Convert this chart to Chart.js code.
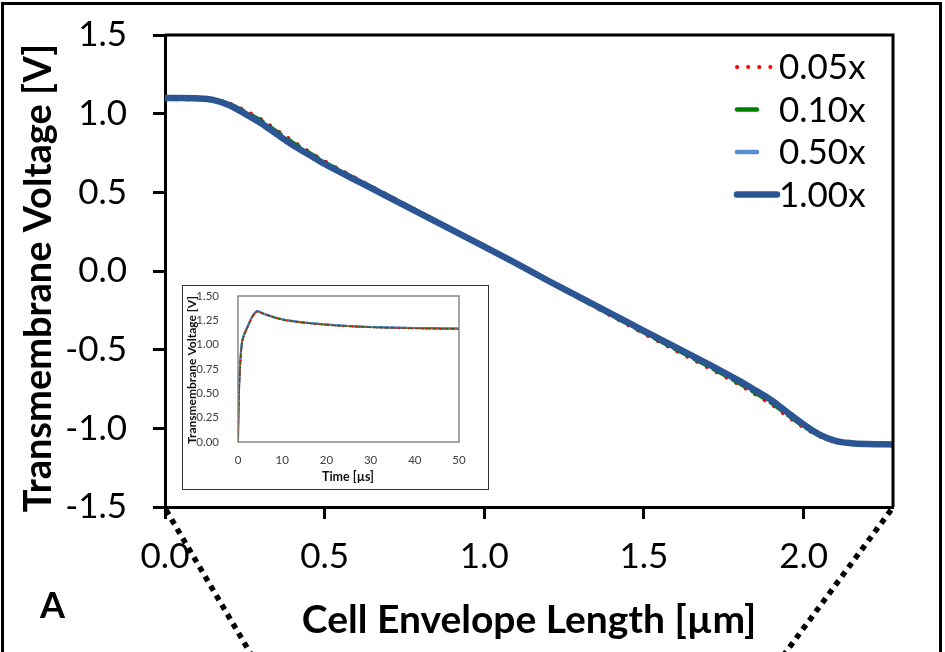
<!DOCTYPE html>
<html>
<head>
<meta charset="utf-8">
<script src="https://cdn.jsdelivr.net/npm/chart.js@4.4.1/dist/chart.umd.min.js"></script>
<style>
  body { margin: 0; background: #fff; }
  #wrap { position: relative; width: 945px; height: 652px; overflow: hidden; }
  #main { position: absolute; left: 0; top: 0; }
  #frame { position: absolute; left: 1px; top: 2px; width: 941px; height: 700px; border: 3px solid #000; box-sizing: border-box; }
  #insetBox { position: absolute; left: 182px; top: 285px; width: 307px; height: 205px; border: 1px solid #333; background: #fff; box-sizing: border-box; }
  #inset { position: absolute; left: 0; top: 0; }
</style>
</head>
<body>
<div id="wrap">
  <canvas id="main" width="945" height="652"></canvas>
  <div id="frame"></div>
  <div id="insetBox"><canvas id="inset" width="305" height="203"></canvas></div>
</div>
<script>
// main panel: voltage along the cell envelope
const seriesNames = ["0.05x", "0.10x", "0.50x", "1.00x"];
const lengthUm = [0, 0.05, 0.10, 0.15, 0.20, 0.25, 0.30, 0.35, 0.40, 0.45, 0.50, 0.60, 0.70, 0.80, 0.90, 1.00,
  1.10, 1.20, 1.30, 1.40, 1.50, 1.60, 1.70, 1.80, 1.85, 1.90, 1.95, 2.00, 2.05, 2.10, 2.15, 2.20, 2.28];
const v005 = [1.090, 1.090, 1.090, 1.086, 1.066, 1.020, 0.965, 0.895, 0.825, 0.760, 0.698, 0.588, 0.480, 0.372, 0.264, 0.155,
  0.045, -0.067, -0.178, -0.288, -0.398, -0.506, -0.613, -0.724, -0.786, -0.849, -0.924, -0.994, -1.051, -1.085, -1.095, -1.096, -1.096];
const v010 = [1.095, 1.095, 1.094, 1.088, 1.062, 1.012, 0.955, 0.885, 0.815, 0.752, 0.690, 0.582, 0.476, 0.369, 0.262, 0.155,
  0.046, -0.065, -0.174, -0.282, -0.390, -0.497, -0.603, -0.714, -0.775, -0.838, -0.914, -0.986, -1.046, -1.083, -1.096, -1.100, -1.101];
const v050 = [1.100, 1.100, 1.098, 1.088, 1.056, 1.002, 0.942, 0.872, 0.802, 0.741, 0.681, 0.576, 0.471, 0.366, 0.260, 0.155,
  0.048, -0.063, -0.169, -0.275, -0.381, -0.486, -0.591, -0.701, -0.762, -0.824, -0.902, -0.976, -1.041, -1.080, -1.095, -1.100, -1.102];
const v100 = [1.100, 1.100, 1.098, 1.088, 1.055, 1.000, 0.940, 0.870, 0.800, 0.740, 0.680, 0.575, 0.470, 0.365, 0.260, 0.155,
  0.048, -0.062, -0.168, -0.274, -0.380, -0.485, -0.590, -0.700, -0.760, -0.822, -0.900, -0.975, -1.040, -1.080, -1.095, -1.100, -1.102];
const xTicks = [0, 0.5, 1.0, 1.5, 2.0];
const yTicks = [-1.5, -1.0, -0.5, 0, 0.5, 1.0, 1.5];

// inset: voltage over time
const timeUs = [0, 0.1, 0.25, 0.5, 0.75, 1, 1.5, 2, 2.5, 3, 3.5, 4, 4.4, 5, 6, 7, 8, 10, 12, 15, 20, 25, 30, 35, 40, 45, 50];
const i005 = [0, 0.22, 0.50, 0.77, 0.94, 1.03, 1.105, 1.16, 1.21, 1.26, 1.30, 1.327, 1.340, 1.330, 1.310, 1.295, 1.280,
  1.257, 1.240, 1.223, 1.202, 1.187, 1.177, 1.171, 1.166, 1.163, 1.161];
const i010 = [0, 0.25, 0.53, 0.79, 0.95, 1.04, 1.11, 1.165, 1.215, 1.265, 1.305, 1.330, 1.342, 1.332, 1.312, 1.297, 1.282,
  1.259, 1.242, 1.225, 1.204, 1.189, 1.179, 1.173, 1.168, 1.165, 1.163];
const i050 = [0, 0.29, 0.57, 0.81, 0.965, 1.048, 1.118, 1.169, 1.219, 1.269, 1.309, 1.334, 1.346, 1.334, 1.314, 1.299, 1.284,
  1.261, 1.244, 1.227, 1.206, 1.191, 1.181, 1.175, 1.170, 1.167, 1.165];
const i100 = [0, 0.30, 0.58, 0.82, 0.97, 1.05, 1.12, 1.17, 1.22, 1.27, 1.31, 1.335, 1.347, 1.335, 1.315, 1.300, 1.285,
  1.262, 1.245, 1.228, 1.207, 1.192, 1.182, 1.176, 1.171, 1.168, 1.166];
const insetXTicks = [0, 10, 20, 30, 40, 50];
const insetYTicks = [0, 0.25, 0.5, 0.75, 1.0, 1.25, 1.5];

const colors = ["#ff0000", "#008000", "#558ed5", "#2c5693"];
const FONT = "Lato, 'Open Sans', sans-serif";

function pts(xs, ys) {
  return xs.map((x, i) => ({ x: x, y: ys[i] }));
}

// keep the plot box where the layout padding puts it (no label overflow padding)
function noOverflow(s) {
  s.paddingTop = 0; s.paddingBottom = 0; s.paddingLeft = 0; s.paddingRight = 0;
}

// main chart extras: frame, legend, titles, zoom lines
const mainDecor = {
  id: "mainDecor",
  afterDraw(chart) {
    const { ctx, chartArea: a } = chart;
    ctx.save();
    ctx.strokeStyle = "#000";
    ctx.lineWidth = 3;
    ctx.beginPath();
    ctx.moveTo(a.left, a.top);
    ctx.lineTo(a.right, a.top);
    ctx.lineTo(a.right, a.bottom);
    ctx.stroke();

    // dotted zoom lines
    ctx.setLineDash([5.5, 5.5]);
    ctx.lineWidth = 5.5;
    ctx.beginPath();
    ctx.moveTo(a.left + 1, a.bottom + 3);
    ctx.lineTo(252, 656);
    ctx.moveTo(a.right - 2, a.bottom + 3);
    ctx.lineTo(783, 656);
    ctx.stroke();
    ctx.setLineDash([]);

    // legend
    const sampleLen = [35, 20, 20, 40];
    chart.data.datasets.forEach((ds, i) => {
      const yy = 67 + i * 42.5;
      ctx.strokeStyle = ds.borderColor;
      ctx.lineWidth = ds.borderWidth;
      ctx.lineCap = "round";
      ctx.setLineDash(i === 0 ? ds.borderDash : []);
      ctx.beginPath();
      ctx.moveTo(737, yy);
      ctx.lineTo(737 + sampleLen[i], yy);
      ctx.stroke();
      ctx.setLineDash([]);
      ctx.fillStyle = "#000";
      ctx.font = "35px " + FONT;
      ctx.textAlign = "left";
      ctx.textBaseline = "middle";
      ctx.fillText(ds.label, 779, yy + 1);
    });

    // axis titles
    ctx.fillStyle = "#000";
    ctx.font = "bold 38px " + FONT;
    ctx.textAlign = "center";
    ctx.textBaseline = "alphabetic";
    ctx.save();
    ctx.translate(51, 278);
    ctx.rotate(-Math.PI / 2);
    ctx.fillText("Transmembrane Voltage [V]", 0, 0);
    ctx.restore();
    ctx.font = "bold 39px " + FONT;
    ctx.fillText("Cell Envelope Length [µm]", 529, 633);
    ctx.font = "bold 36px " + FONT;
    ctx.textAlign = "left";
    ctx.fillText("A", 40, 618);
    ctx.restore();
  }
};

new Chart(document.getElementById("main"), {
  type: "line",
  data: {
    datasets: [
      { label: seriesNames[0], data: pts(lengthUm, v005), borderColor: colors[0], borderWidth: 4,
        borderDash: [0.1, 11], borderCapStyle: "round", order: 4 },
      { label: seriesNames[1], data: pts(lengthUm, v010), borderColor: colors[1], borderWidth: 4.5,
        borderDash: [16, 6], order: 3 },
      { label: seriesNames[2], data: pts(lengthUm, v050), borderColor: colors[2], borderWidth: 4.5,
        borderDash: [16, 6], order: 2 },
      { label: seriesNames[3], data: pts(lengthUm, v100), borderColor: colors[3], borderWidth: 6.5, order: 1 }
    ]
  },
  options: {
    responsive: false,
    animation: false,
    devicePixelRatio: 1,
    cubicInterpolationMode: "monotone",
    elements: { point: { radius: 0 } },
    layout: { padding: { left: 0, top: 35, right: 52, bottom: 0 } },
    plugins: { legend: { display: false }, tooltip: { enabled: false } },
    scales: {
      x: {
        type: "linear", min: 0, max: 2.28,
        afterFit: s => { s.height = 145; noOverflow(s); },
        afterBuildTicks: s => { s.ticks = xTicks.map(v => ({ value: v })); },
        border: { color: "#000", width: 3 },
        grid: { drawOnChartArea: false, tickLength: 12, tickWidth: 3, tickColor: "#000" },
        ticks: { color: "#000", font: { family: FONT, size: 35 }, padding: 17, maxRotation: 0, autoSkip: false,
          callback: v => v.toFixed(1) }
      },
      y: {
        min: -1.5, max: 1.5,
        afterFit: s => { s.width = 165; noOverflow(s); },
        afterBuildTicks: s => { s.ticks = yTicks.map(v => ({ value: v })); },
        border: { color: "#000", width: 3 },
        grid: { drawOnChartArea: false, tickLength: 12, tickWidth: 3, tickColor: "#000" },
        ticks: { color: "#000", font: { family: FONT, size: 35 }, padding: 26,
          callback: v => v.toFixed(1) }
      }
    }
  },
  plugins: [mainDecor]
});

// inset extras: plot frame and titles
const insetDecor = {
  id: "insetDecor",
  afterDraw(chart) {
    const { ctx, chartArea: a } = chart;
    ctx.save();
    ctx.strokeStyle = "#868686";
    ctx.lineWidth = 1.5;
    ctx.strokeRect(a.left, a.top, a.right - a.left, a.bottom - a.top);
    ctx.fillStyle = "#111";
    ctx.font = "bold 12.5px " + FONT;
    ctx.textAlign = "center";
    ctx.textBaseline = "middle";
    ctx.fillText("Time [µs]", 165, 191);
    ctx.font = "bold 12px " + FONT;
    ctx.translate(9, 84);
    ctx.rotate(-Math.PI / 2);
    ctx.fillText("Transmembrane Voltage [V]", 0, 0);
    ctx.restore();
  }
};

new Chart(document.getElementById("inset"), {
  type: "line",
  data: {
    datasets: [
      { label: seriesNames[0], data: pts(timeUs, i005), borderColor: colors[0], borderWidth: 1.5, borderDash: [1.5, 2] },
      { label: seriesNames[1], data: pts(timeUs, i010), borderColor: colors[1], borderWidth: 1.5, borderDash: [4, 2] },
      { label: seriesNames[2], data: pts(timeUs, i050), borderColor: colors[2], borderWidth: 2 },
      { label: seriesNames[3], data: pts(timeUs, i100), borderColor: colors[3], borderWidth: 2 }
    ]
  },
  options: {
    responsive: false,
    animation: false,
    devicePixelRatio: 1,
    cubicInterpolationMode: "monotone",
    elements: { point: { radius: 0 } },
    layout: { padding: { left: 0, top: 10, right: 29, bottom: 0 } },
    plugins: { legend: { display: false }, tooltip: { enabled: false } },
    scales: {
      x: {
        type: "linear", min: 0, max: 50,
        afterFit: s => { s.height = 47; noOverflow(s); },
        afterBuildTicks: s => { s.ticks = insetXTicks.map(v => ({ value: v })); },
        border: { display: false },
        grid: { display: false, drawTicks: false },
        ticks: { color: "#404040", font: { family: FONT, size: 11.5 }, padding: 11, maxRotation: 0, autoSkip: false }
      },
      y: {
        min: 0, max: 1.5,
        afterFit: s => { s.width = 55; noOverflow(s); },
        afterBuildTicks: s => { s.ticks = insetYTicks.map(v => ({ value: v })); },
        border: { display: false },
        grid: { display: false, drawTicks: false },
        ticks: { color: "#404040", font: { family: FONT, size: 11.5 }, padding: 19, autoSkip: false,
          callback: v => v.toFixed(2) }
      }
    }
  },
  plugins: [insetDecor]
});
</script>
</body>
</html>
